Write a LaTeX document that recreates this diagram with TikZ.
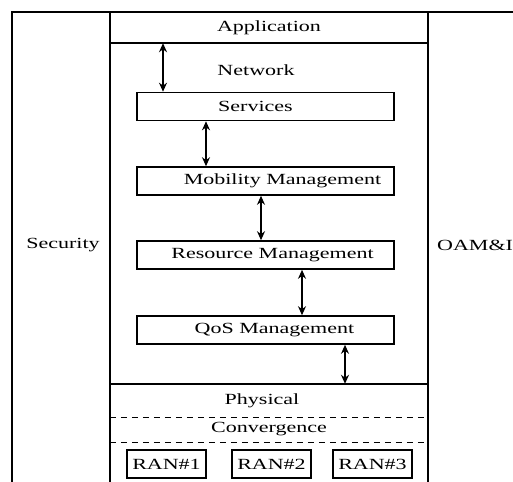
\documentclass[tikz,border=0pt]{standalone}
\usepackage{fontspec}
\setmainfont{Liberation Serif}
\usepackage{graphicx}
\usetikzlibrary{arrows.meta}
\newcommand{\wtxt}[1]{\scalebox{1.42}[1]{#1}}
\tikzset{
  lbl/.style={font=\fontsize{15.5}{15.5}\selectfont, inner sep=0pt},
  layerbox/.style={draw, line width=1.6pt, minimum width=257pt, minimum height=28pt, inner sep=0pt, font=\fontsize{15.5}{15.5}\selectfont},
  ranbox/.style={draw, line width=1.6pt, minimum width=79pt, minimum height=28pt, inner sep=0pt, font=\fontsize{15.5}{15.5}\selectfont},
  dblarrow/.style={{Stealth[length=9pt,width=8pt]}-{Stealth[length=9pt,width=8pt]}, line width=1.8pt}
}
\begin{document}
\begin{tikzpicture}[x=1pt,y=-1pt]
  \clip (0,0) rectangle (513,481);
  \fill[white] (0,0) rectangle (513,481);
  % frame and columns
  \draw[line width=2.2pt] (12,12) rectangle (560,540);
  \draw[line width=2pt] (110,12) rectangle (428,540);
  \node[lbl] (sec) at (63,245) {\wtxt{Security}};
  \node[lbl, anchor=west] (oam) at (437,245) {\wtxt{OAM\&I}};
  % application layer
  \node[minimum width=318pt, minimum height=31pt, inner sep=0pt, font=\fontsize{15.5}{15.5}\selectfont] (app) at (269,27.5) {\wtxt{Application}};
  \draw[line width=1.6pt] (app.south west) -- (app.south east);
  % network layer
  \node[lbl] (net) at (256,70) {\wtxt{Network}};
  \node[layerbox] (svc) at (265.5,106.5) {\hspace*{-20pt}\wtxt{Services}};
  \node[layerbox] (mob) at (265.5,181) {\hspace*{34pt}\wtxt{Mobility Management}};
  \node[layerbox] (res) at (265.5,255) {\hspace*{14pt}\wtxt{Resource Management}};
  \node[layerbox] (qos) at (265.5,330) {\hspace*{18pt}\wtxt{QoS Management}};
  % physical layer
  \node[minimum width=318pt, minimum height=33pt, inner sep=0pt, font=\fontsize{15.5}{15.5}\selectfont] (phy) at (269,400.5) {\hspace*{-14pt}\wtxt{Physical}};
  \draw[line width=1.6pt] (phy.north west) -- (phy.north east);
  \draw[line width=1.2pt, dash pattern=on 6pt off 5pt] (phy.south west) -- (phy.south east);
  \node[minimum width=318pt, minimum height=25pt, inner sep=0pt, font=\fontsize{15.5}{15.5}\selectfont] (conv) at (269,429.5) {\wtxt{Convergence}};
  \draw[line width=1.2pt, dash pattern=on 6pt off 5pt] (conv.south west) -- (conv.south east);
  \node[ranbox] (ran1) at (166.5,464) {\wtxt{RAN\#1}};
  \node[ranbox] (ran2) at (271.5,464) {\wtxt{RAN\#2}};
  \node[ranbox] (ran3) at (372.5,464) {\wtxt{RAN\#3}};
  % arrows
  \draw[dblarrow] ([xshift=-106pt]app.south) -- ([xshift=-102.5pt]svc.north);
  \draw[dblarrow] ([xshift=-59.5pt]svc.south) -- ([xshift=-59.5pt]mob.north);
  \draw[dblarrow] ([xshift=-4.5pt]mob.south) -- ([xshift=-4.5pt]res.north);
  \draw[dblarrow] ([xshift=36.5pt]res.south) -- ([xshift=36.5pt]qos.north);
  \draw[dblarrow] ([xshift=79.5pt]qos.south) -- ([xshift=76pt]phy.north);
\end{tikzpicture}
\end{document}
